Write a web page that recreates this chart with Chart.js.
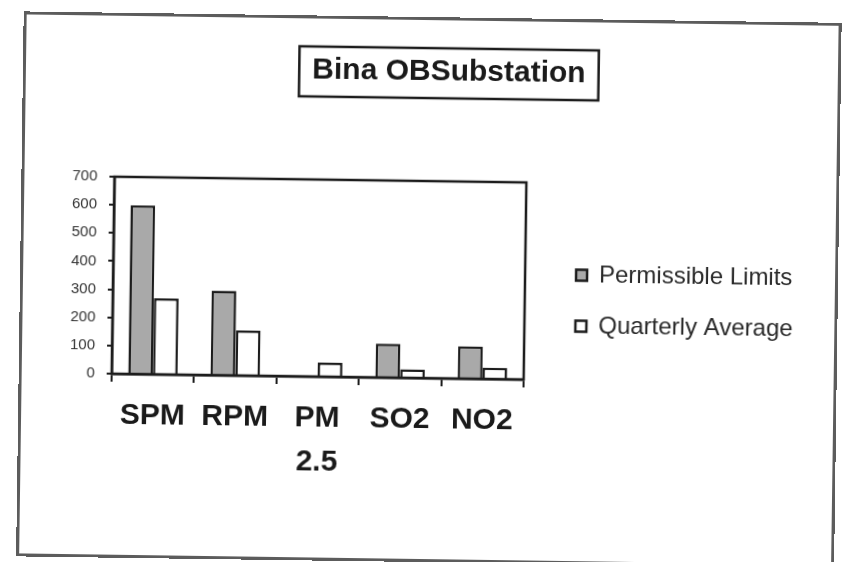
<!DOCTYPE html>
<html>
<head>
<meta charset="utf-8">
<title>Bina OBSubstation</title>
<script src="https://cdn.jsdelivr.net/npm/chart.js@4.4.1/dist/chart.umd.min.js"></script>
<style>
  html, body { margin: 0; padding: 0; background: #fff; overflow: hidden; }
  #page { position: relative; width: 843px; height: 562px; transform: rotate(0.8deg); transform-origin: 50% 50%; }
  #frame { position: absolute; left: 20px; top: 17px; width: 818px; height: 545px; box-sizing: border-box; border: 3px solid #5c5c5c; pointer-events: none; }
  canvas { position: absolute; left: 0; top: 0; }
</style>
</head>
<body>
<div id="page">
  <canvas id="chart" width="843" height="562"></canvas>
  <div id="frame"></div>
</div>
<script>
const categories = ['SPM', 'RPM', ['PM', '2.5'], 'SO2', 'NO2'];
const permissibleLimits = [600, 300, null, 120, 115];
const quarterlyAverage = [270, 160, 50, 30, 40];
const seriesNames = ['Permissible Limits', 'Quarterly Average'];
const chartTitle = 'Bina OBSubstation';
const yMin = 0;
const yMax = 700;
const yStep = 100;

const fontFamily = '"Liberation Sans", Arial, sans-serif';
const inkColor = '#1c1c1c';

// legend hugs the right side of the frame
const legendFontSize = 24;
const legendPadding = 27;
const legendLeft = 549;
const measureCtx = document.createElement('canvas').getContext('2d');
measureCtx.font = legendFontSize + 'px ' + fontFamily;
const legendTextWidth = Math.max(...seriesNames.map(n => measureCtx.measureText(n).width));
const legendWidth = legendTextWidth + 11 + legendFontSize / 2 + legendPadding + 10;
const padRight = 843 - legendLeft - legendWidth;
const padLeft = 60;
const plotLeft = 113;
const plotRight = 525;
const plotBottom = 378;

const titleFontSize = 30;
const titlePadTop = 19;
const titleCenterX = 446;

const chartAreaBorder = {
  id: 'chartAreaBorder',
  afterDraw(chart) {
    const {ctx, chartArea: a} = chart;
    ctx.save();
    ctx.strokeStyle = inkColor;
    ctx.lineWidth = 2.5;
    ctx.strokeRect(a.left, a.top, a.right - a.left, a.bottom - a.top);
    ctx.restore();
  }
};

// boxed title, sitting a bit right of the canvas centre
const titleBox = {
  id: 'titleBox',
  afterLayout(chart) {
    const t = chart.titleBlock;
    const shift = titleCenterX - (t.left + t.right) / 2;
    t.left += shift;
    t.right += shift;
  },
  afterDraw(chart) {
    const t = chart.titleBlock;
    const ctx = chart.ctx;
    ctx.save();
    ctx.font = 'bold ' + titleFontSize + 'px ' + fontFamily;
    const w = ctx.measureText(chartTitle).width;
    const cx = (t.left + t.right) / 2;
    const cy = t.top + titlePadTop + titleFontSize * 1.2 / 2;
    ctx.strokeStyle = inkColor;
    ctx.lineWidth = 2.5;
    ctx.strokeRect(cx - w / 2 - 13, cy - 24, w + 26, 50);
    ctx.restore();
  }
};

new Chart(document.getElementById('chart').getContext('2d'), {
  type: 'bar',
  data: {
    labels: categories,
    datasets: [
      {
        label: seriesNames[0],
        data: permissibleLimits,
        backgroundColor: '#a9a9a9',
        borderColor: inkColor,
        borderWidth: 2.5,
        categoryPercentage: 0.6,
        barPercentage: 1,
        yAxisID: 'y'
      },
      {
        label: seriesNames[1],
        data: quarterlyAverage,
        backgroundColor: '#ffffff',
        borderColor: inkColor,
        borderWidth: 2.5,
        categoryPercentage: 0.6,
        barPercentage: 1,
        yAxisID: 'y'
      }
    ]
  },
  options: {
    responsive: false,
    animation: false,
    layout: {
      padding: { top: 35, left: padLeft, right: padRight, bottom: 0 }
    },
    plugins: {
      title: {
        display: true,
        text: chartTitle,
        color: '#1a1a1a',
        font: { family: fontFamily, size: titleFontSize, weight: 'bold', lineHeight: 1.2 },
        padding: { top: titlePadTop, bottom: 91 }
      },
      legend: {
        position: 'right',
        align: 'center',
        maxWidth: 400,
        labels: {
          boxWidth: 11,
          boxHeight: 11,
          padding: legendPadding,
          color: '#2a2a2a',
          font: { family: fontFamily, size: legendFontSize }
        }
      },
      tooltip: { enabled: false }
    },
    scales: {
      y: {
        min: yMin,
        max: yMax,
        ticks: {
          stepSize: yStep,
          color: '#333',
          padding: 12,
          font: { family: fontFamily, size: 15 }
        },
        grid: { drawOnChartArea: false, tickLength: 5, color: inkColor, lineWidth: 2 },
        border: { color: inkColor, width: 2.5 },
        afterFit(scale) { scale.width = plotLeft - padLeft; }
      },
      yRight: {
        type: 'linear',
        position: 'right',
        ticks: { display: false },
        grid: { display: false },
        border: { display: false },
        afterFit(scale) { scale.width = legendLeft - plotRight; }
      },
      x: {
        ticks: {
          color: '#1a1a1a',
          padding: 12,
          maxRotation: 0,
          autoSkip: false,
          font: { family: fontFamily, size: 30, weight: 'bold', lineHeight: 1.47 }
        },
        grid: { drawOnChartArea: false, tickLength: 8, color: inkColor, lineWidth: 2 },
        border: { color: inkColor, width: 2.5 },
        afterFit(scale) { scale.height = 562 - plotBottom; }
      }
    }
  },
  plugins: [chartAreaBorder, titleBox]
});
</script>
</body>
</html>
